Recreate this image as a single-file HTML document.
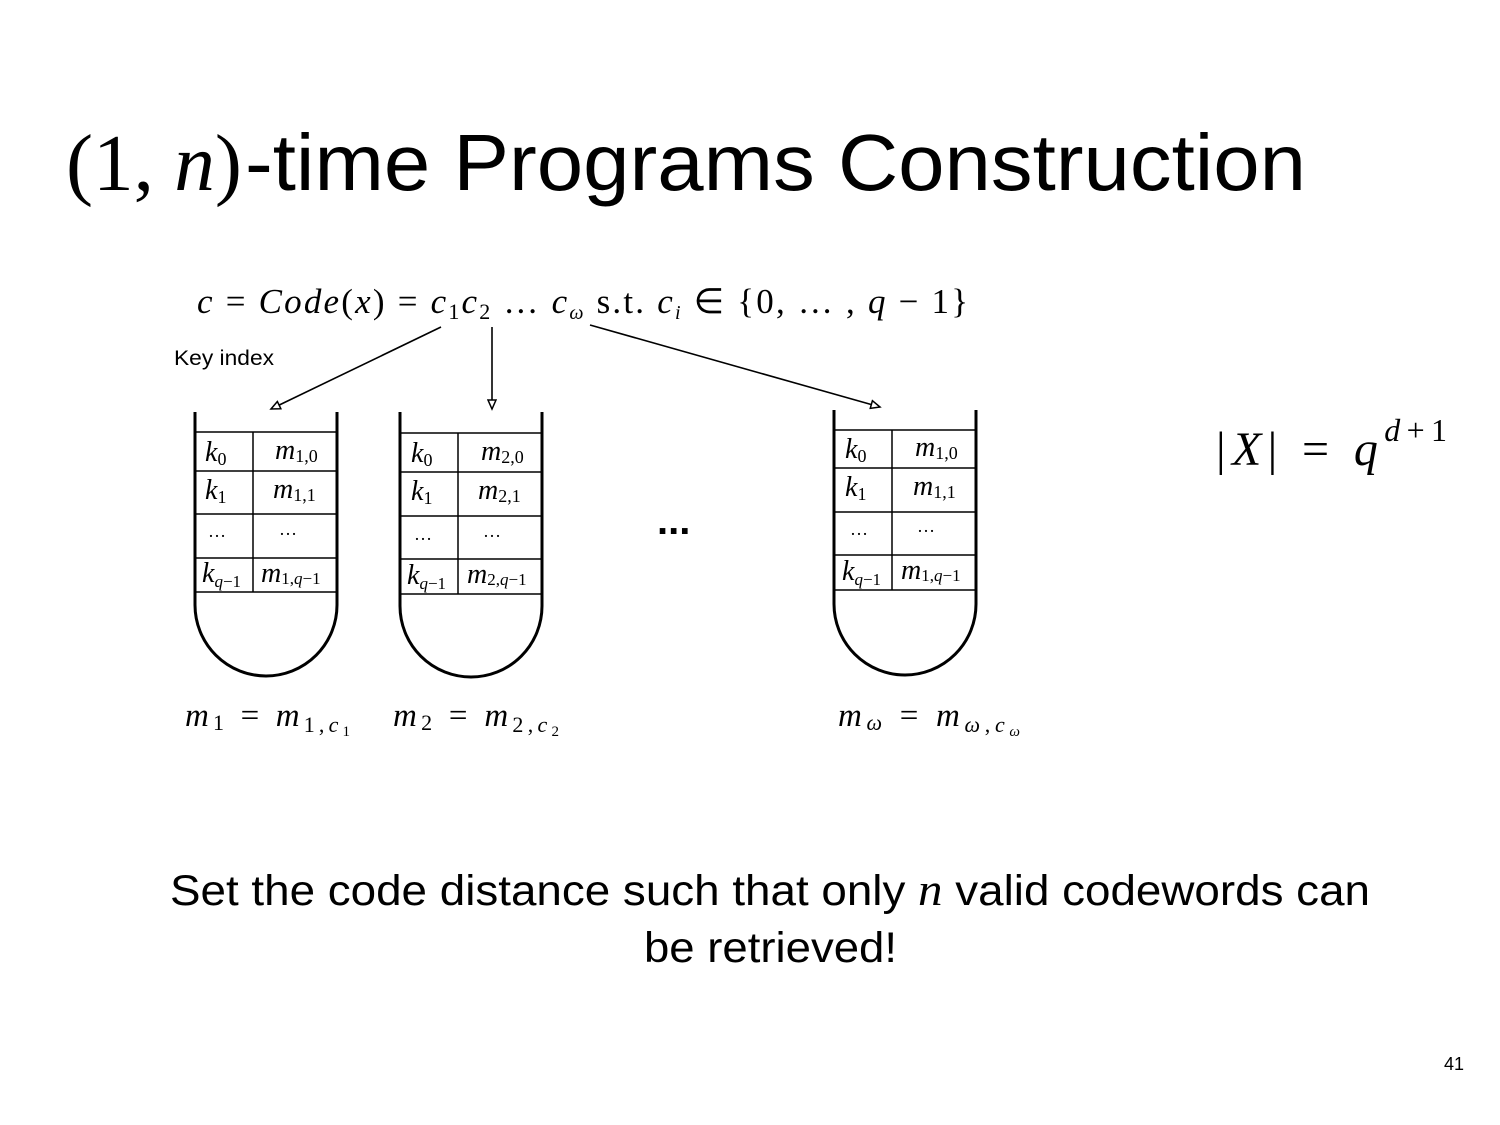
<!DOCTYPE html>
<html><head><style>
body{margin:0;background:#fff;}
.wrap{position:relative;width:1500px;height:1125px;overflow:hidden;}
</style></head><body><div class="wrap">
<svg width="1500" height="1125" xmlns="http://www.w3.org/2000/svg">
<defs>
<marker id="ah" markerWidth="12" markerHeight="10" refX="10" refY="5" orient="auto" markerUnits="userSpaceOnUse">
<path d="M1,1 L10,5 L1,9 Z" fill="#fff" stroke="#000" stroke-width="1.5"/>
</marker>
</defs>
<text x="66" y="190" font-family="Liberation Serif, serif" font-size="80" textLength="176" lengthAdjust="spacingAndGlyphs">(1, <tspan font-style="italic">n</tspan>)</text>
<text x="245" y="190" font-family="Liberation Sans, sans-serif" font-size="80" textLength="1061" lengthAdjust="spacingAndGlyphs">-time Programs Construction</text>

<text x="197" y="313" font-family="Liberation Serif, serif" font-size="35" textLength="771" lengthAdjust="spacing"><tspan font-style="italic">c</tspan> = <tspan font-style="italic">Code</tspan>(<tspan font-style="italic">x</tspan>) = <tspan font-style="italic">c</tspan><tspan font-size="22" dy="6">1</tspan><tspan font-style="italic" dy="-6">c</tspan><tspan font-size="22" dy="6">2</tspan><tspan dy="-6"> … </tspan><tspan font-style="italic">c</tspan><tspan font-size="20" font-style="italic" dy="6">ω</tspan><tspan dy="-6"> s.t. </tspan><tspan font-style="italic">c</tspan><tspan font-size="20" font-style="italic" dy="6">i</tspan><tspan dy="-6"> ∈ {0, … , </tspan><tspan font-style="italic">q</tspan> − 1}</text>
<text x="174" y="365" font-family="Liberation Sans, sans-serif" font-size="21" textLength="100" lengthAdjust="spacingAndGlyphs">Key index</text>

<g stroke="#000" stroke-width="1.6" fill="none">
<line x1="441" y1="327" x2="271" y2="409" marker-end="url(#ah)"/>
<line x1="492" y1="327" x2="492" y2="409" marker-end="url(#ah)"/>
<line x1="590" y1="325" x2="880" y2="407" marker-end="url(#ah)"/>
</g>

<g font-family="Liberation Serif, serif" font-style="italic" font-size="28">
<g>
<path d="M195,412 V605 A71,71 0 0 0 337,605 V412" fill="none" stroke="#000" stroke-width="3"/>
<g stroke="#000" stroke-width="1.5">
<line x1="195" y1="432" x2="337" y2="432"/><line x1="195" y1="471" x2="337" y2="471"/>
<line x1="195" y1="514" x2="337" y2="514"/><line x1="195" y1="558" x2="337" y2="558"/>
<line x1="195" y1="592" x2="337" y2="592"/><line x1="253" y1="432" x2="253" y2="592"/>
</g>
<text x="205" y="461">k<tspan font-size="18" font-style="normal" dy="4">0</tspan></text>
<text x="275" y="459">m<tspan font-size="18" font-style="normal" dy="3">1,0</tspan></text>
<text x="205" y="499">k<tspan font-size="18" font-style="normal" dy="4">1</tspan></text>
<text x="273" y="498">m<tspan font-size="18" font-style="normal" dy="3">1,1</tspan></text>
<text x="208" y="537" font-style="normal" font-size="18">…</text>
<text x="279" y="535" font-style="normal" font-size="18">…</text>
<text x="202" y="582">k<tspan font-size="17" dy="5">q</tspan><tspan font-size="17" font-style="normal">−1</tspan></text>
<text x="261" y="582">m<tspan font-size="17" font-style="normal" dy="2">1,</tspan><tspan font-size="17">q</tspan><tspan font-size="17" font-style="normal">−1</tspan></text>
</g>
<g>
<path d="M400,412 V606 A71,71 0 0 0 542,606 V412" fill="none" stroke="#000" stroke-width="3"/>
<g stroke="#000" stroke-width="1.5">
<line x1="400" y1="433" x2="542" y2="433"/><line x1="400" y1="472" x2="542" y2="472"/>
<line x1="400" y1="516" x2="542" y2="516"/><line x1="400" y1="559" x2="542" y2="559"/>
<line x1="400" y1="594" x2="542" y2="594"/><line x1="458" y1="433" x2="458" y2="594"/>
</g>
<text x="411" y="462">k<tspan font-size="18" font-style="normal" dy="4">0</tspan></text>
<text x="481" y="460">m<tspan font-size="18" font-style="normal" dy="3">2,0</tspan></text>
<text x="411" y="500">k<tspan font-size="18" font-style="normal" dy="4">1</tspan></text>
<text x="478" y="499">m<tspan font-size="18" font-style="normal" dy="3">2,1</tspan></text>
<text x="414" y="540" font-style="normal" font-size="18">…</text>
<text x="483" y="537" font-style="normal" font-size="18">…</text>
<text x="407" y="584">k<tspan font-size="17" dy="5">q</tspan><tspan font-size="17" font-style="normal">−1</tspan></text>
<text x="467" y="583">m<tspan font-size="17" font-style="normal" dy="2">2,</tspan><tspan font-size="17">q</tspan><tspan font-size="17" font-style="normal">−1</tspan></text>
</g>
<g>
<path d="M834,410 V604 A71,71 0 0 0 976,604 V410" fill="none" stroke="#000" stroke-width="3"/>
<g stroke="#000" stroke-width="1.5">
<line x1="834" y1="430" x2="976" y2="430"/><line x1="834" y1="468" x2="976" y2="468"/>
<line x1="834" y1="512" x2="976" y2="512"/><line x1="834" y1="555" x2="976" y2="555"/>
<line x1="834" y1="590" x2="976" y2="590"/><line x1="892" y1="430" x2="892" y2="590"/>
</g>
<text x="845" y="458">k<tspan font-size="18" font-style="normal" dy="4">0</tspan></text>
<text x="915" y="456">m<tspan font-size="18" font-style="normal" dy="3">1,0</tspan></text>
<text x="845" y="496">k<tspan font-size="18" font-style="normal" dy="4">1</tspan></text>
<text x="913" y="495">m<tspan font-size="18" font-style="normal" dy="3">1,1</tspan></text>
<text x="850" y="535" font-style="normal" font-size="18">…</text>
<text x="917" y="532" font-style="normal" font-size="18">…</text>
<text x="842" y="580">k<tspan font-size="17" dy="5">q</tspan><tspan font-size="17" font-style="normal">−1</tspan></text>
<text x="901" y="579">m<tspan font-size="17" font-style="normal" dy="2">1,</tspan><tspan font-size="17">q</tspan><tspan font-size="17" font-style="normal">−1</tspan></text>
</g>
</g>

<text x="657" y="534" font-family="Liberation Sans, sans-serif" font-size="40" font-weight="bold">...</text>

<text x="1216" y="465" font-family="Liberation Serif, serif" font-size="48" textLength="231" lengthAdjust="spacing">|<tspan font-style="italic">X</tspan>| = <tspan font-style="italic">q</tspan><tspan font-size="32" font-style="italic" dy="-24">d</tspan><tspan font-size="32">+1</tspan></text>

<g font-family="Liberation Serif, serif" font-size="33" font-style="italic">
<text x="185" y="726" textLength="165" lengthAdjust="spacing">m<tspan font-size="22" font-style="normal" dy="4">1</tspan><tspan font-style="normal" dy="-4"> = </tspan>m<tspan font-size="22" font-style="normal" dy="6">1,</tspan><tspan font-size="22">c</tspan><tspan font-size="15" font-style="normal" dy="4">1</tspan></text>
<text x="393" y="726" textLength="166" lengthAdjust="spacing">m<tspan font-size="22" font-style="normal" dy="4">2</tspan><tspan font-style="normal" dy="-4"> = </tspan>m<tspan font-size="22" font-style="normal" dy="6">2,</tspan><tspan font-size="22">c</tspan><tspan font-size="15" font-style="normal" dy="4">2</tspan></text>
<text x="838" y="726" textLength="182" lengthAdjust="spacing">m<tspan font-size="22" dy="4">ω</tspan><tspan font-style="normal" dy="-4"> = </tspan>m<tspan font-size="22" dy="6">ω</tspan><tspan font-size="22" font-style="normal">,</tspan><tspan font-size="22">c</tspan><tspan font-size="15" dy="4">ω</tspan></text>
</g>

<text x="170" y="905" font-family="Liberation Sans, sans-serif" font-size="43" textLength="1200" lengthAdjust="spacingAndGlyphs">Set the code distance such that only <tspan font-family="Liberation Serif, serif" font-style="italic" font-size="46">n</tspan> valid codewords can</text>
<text x="644" y="962" font-family="Liberation Sans, sans-serif" font-size="43" textLength="253" lengthAdjust="spacingAndGlyphs">be retrieved!</text>
<text x="1464" y="1070" text-anchor="end" font-family="Liberation Sans, sans-serif" font-size="18">41</text>
</svg>
</div></body></html>
